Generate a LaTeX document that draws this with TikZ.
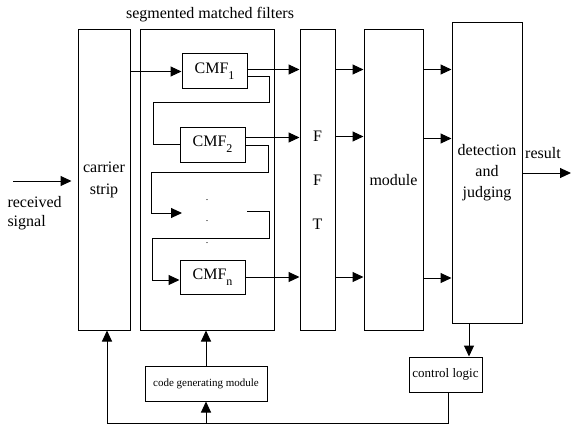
\documentclass[tikz,border=0pt]{standalone}
\usepackage{fontspec}
\setmainfont{Liberation Serif}
\usetikzlibrary{arrows, arrows.meta}
\usetikzlibrary{calc}

\newcommand{\cmfsub}[1]{CMF\raisebox{-6pt}{\fontsize{12}{12}\selectfont #1}}

\begin{document}
\begin{tikzpicture}[x=1pt, y=-1pt, line width=1pt,
    blk/.style={draw, inner sep=0pt, align=center, font=\fontsize{16}{22}\selectfont},
    arr/.style={-{Triangle[length=11pt, width=10pt]}}]
      \useasboundingbox (0,0) rectangle (572,425);

      \node[blk, minimum width=52pt, minimum height=300pt] (strip) at (104,180) {carrier\\strip};
      \node[blk, minimum width=134pt, minimum height=300pt] (smf) at (207,180) {};
      \node[font=\fontsize{16}{20}\selectfont] (title) at (210,15) {segmented matched filters};
      \node[blk, minimum width=65pt, minimum height=35pt] (cmf1) at (214.5,71.5) {\cmfsub{1}};
      \node[blk, minimum width=65pt, minimum height=35pt] (cmf2) at (212.5,144.5) {\cmfsub{2}};
      \node[blk, minimum width=65pt, minimum height=34pt] (cmfn) at (212.5,277) {\cmfsub{n}};
      \node[blk, minimum width=35pt, minimum height=300pt, font=\fontsize{16}{44}\selectfont] (fft) at (317.5,180) {F\\F\\T};
      \node[blk, minimum width=59pt, minimum height=300pt] (module) at (393.5,180) {module};
      \node[blk, minimum width=70pt, minimum height=300pt, font=\fontsize{16}{21}\selectfont] (detect) at (487,173) {detection\\and\\judging};
      \node[blk, minimum width=73pt, minimum height=35pt, font=\fontsize{13}{15}\selectfont] (ctrl) at (445.5,374.5) {control logic};
      \node[blk, minimum width=122pt, minimum height=35pt, font=\fontsize{11}{13}\selectfont] (codegen) at (206,383.5) {code generating module};

      \node[align=left, anchor=west, inner sep=0pt, font=\fontsize{16}{19}\selectfont] (recv) at (7,213) {received\\signal};
      \node[inner sep=0pt, font=\fontsize{16}{19}\selectfont] (res) at (543,153) {result};
      \node[inner sep=0pt] (dot1) at (207,200) {.};
      \node[inner sep=0pt] (dot2) at (207,221) {.};
      \node[inner sep=0pt] (dot3) at (207,243) {.};

      \coordinate (rin) at (13,181);
      \coordinate (rout) at (571,173);
      \coordinate (dotin) at (182,213);
      \coordinate (dotout) at (247,211);
      \coordinate (fb) at (448,423);

      \draw[arr] (rin) -- ([yshift=-1pt]strip.west) [shorten >=6pt];
      \draw[arr] (strip.east |- cmf1.west) -- (cmf1.west);

      \draw[arr] ([yshift=2pt]cmf1.east) -- ([yshift=2pt]cmf1.east -| fft.west);
      \draw[arr] ([yshift=7pt]cmf2.east) -- ([yshift=7pt]cmf2.east -| fft.west);
      \draw[arr] (cmfn.east) -- (cmfn.east -| fft.west);

      \draw ([yshift=-5pt]cmf1.east) -| (269,103) -- (153,103) |- (cmf2.west);
      \draw[arr] ([yshift=-1pt]cmf2.east) -| (268,172) -- (151,172) |- (dotin);
      \draw[arr] (dotout) -| (269,238) -- (152,238) |- ([yshift=-3pt]cmfn.west);

      \draw[arr] ([yshift=2pt]fft.east |- cmf1) -- ([yshift=2pt]module.west |- cmf1);
      \draw[arr] ([yshift=8pt]fft.east |- cmf2) -- ([yshift=8pt]module.west |- cmf2);
      \draw[arr] (fft.east |- cmfn) -- (module.west |- cmfn);

      \draw[arr] ([yshift=2pt]module.east |- cmf1) -- ([yshift=2pt]detect.west |- cmf1);
      \draw[arr] ([yshift=6pt]module.east |- cmf2) -- ([yshift=6pt]detect.west |- cmf2);
      \draw[arr] ([yshift=-1pt]module.east |- cmfn) -- ([yshift=-1pt]detect.west |- cmfn);

      \draw[arr] (detect.east) -- (rout);
      \draw[arr] ([xshift=-18pt]detect.south) -- ([xshift=-18pt]detect.south |- ctrl.north);

      \draw[arr] (ctrl.south -| fb) -- (fb) -| ([xshift=3pt]strip.south);
      \draw[arr] (codegen.south |- fb) -- (codegen.south);
      \draw[arr] (codegen.north) -- (codegen.north |- smf.south);
\end{tikzpicture}
\end{document}
